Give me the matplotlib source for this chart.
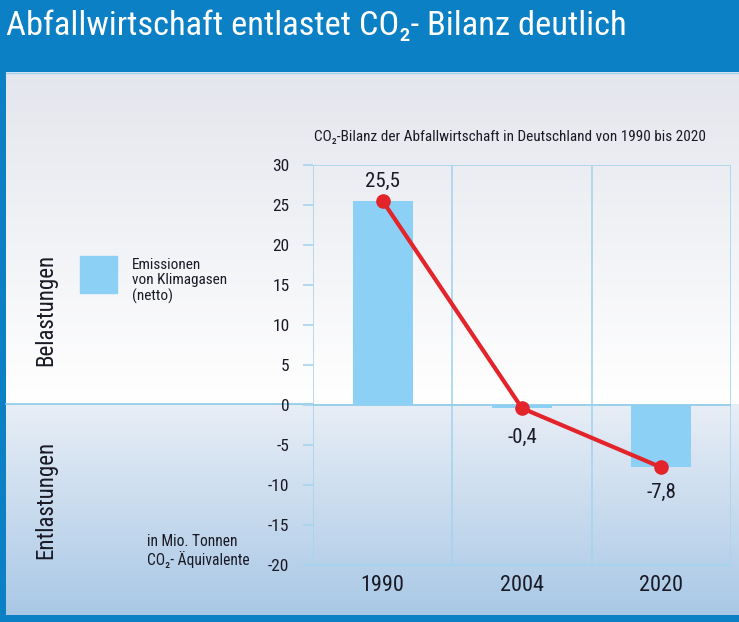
import numpy as np
import matplotlib.pyplot as plt
from matplotlib.colors import LinearSegmentedColormap

years = ["1990", "2004", "2020"]
emissions = [25.5, -0.4, -7.8]
value_labels = ["25,5", "-0,4", "-7,8"]
yticks = [30, 25, 20, 15, 10, 5, 0, -5, -10, -15, -20]

plt.rcParams["font.family"] = ["Roboto Condensed", "DejaVu Sans"]

W, H = 739, 622
fig = plt.figure(figsize=(W / 100, H / 100), dpi=100)

# background in pixel coordinates
bg = fig.add_axes([0, 0, 1, 1])
bg.axis("off")

blue = "#0b80c5"
zero_px = 404

top_cmap = LinearSegmentedColormap.from_list("top", ["#e4e6ed", "#ffffff"])
bot_cmap = LinearSegmentedColormap.from_list("bot", ["#e8eef6", "#a9c8e6"])
grad = np.linspace(0, 1, 256).reshape(-1, 1)
bg.imshow(grad, cmap=top_cmap, extent=(0, W, zero_px, 72), aspect="auto")
bg.imshow(grad, cmap=bot_cmap, extent=(0, W, 615, zero_px), aspect="auto")
bg.add_patch(plt.Rectangle((0, 0), W, 72, color=blue, lw=0))
bg.add_patch(plt.Rectangle((0, 0), 6, H, color=blue, lw=0))
bg.add_patch(plt.Rectangle((0, 615), W, 7, color=blue, lw=0))
bg.plot([6, W], [73, 73], color="#9fd0ee", lw=1)
bg.plot([6, 313], [zero_px, zero_px], color="#8ccbea", lw=1.2)
bg.set_xlim(0, W)
bg.set_ylim(H, 0)

fig.text(6 / W, 1 - 26 / H, "Abfallwirtschaft entlastet CO\u2082- Bilanz deutlich",
         color="white", fontsize=24.8, va="center", ha="left")

# chart
ax = fig.add_axes([313 / W, 57 / H, 418 / W, 400 / H])
ax.patch.set_alpha(0)
x = np.arange(len(years))
ax.bar(x, emissions, width=0.43, color="#8dd0f5", zorder=2)
ax.plot(x, emissions, color="#e3242b", lw=3, marker="o", markersize=9.5, zorder=4)

offsets = [14, -21, -18]
for xi, v, lab, off in zip(x, emissions, value_labels, offsets):
    ax.annotate(lab, (xi, v), xytext=(0, off), textcoords="offset points",
                ha="center", va="center", fontsize=15, color="#1a1a26", zorder=5)

ax.set_xlim(-0.5, 2.5)
ax.set_ylim(-20, 30)
ax.set_yticks(yticks)
ax.set_yticklabels([str(t) for t in yticks])
ax.set_xticks(x)
ax.set_xticklabels(years)

grid_c = "#a6d4ee"
for b in [-0.5, 0.5, 1.5, 2.5]:
    ax.axvline(b, color=grid_c, lw=1.2, zorder=1)
ax.axhline(30, color=grid_c, lw=1.2, zorder=1)
ax.axhline(0, color="#8ccbea", lw=1.2, zorder=1)
ax.plot([-0.56, 2.5], [-20, -20], color=grid_c, lw=1.5, clip_on=False, zorder=1)
for s in ax.spines.values():
    s.set_visible(False)

ax.tick_params(axis="y", length=7, color=grid_c, width=1.2, pad=10,
               labelsize=12.5, labelcolor="#1a1a26")
ax.tick_params(axis="x", length=0, pad=7, labelsize=16, labelcolor="#1a1a26")

fig.text(510 / W, 1 - 137 / H,
         "CO\u2082-Bilanz der Abfallwirtschaft in Deutschland von 1990 bis 2020",
         fontsize=11, ha="center", va="center", color="#1a1a26")

fig.text(46 / W, 1 - 310 / H, "Belastungen", rotation=90, fontsize=16.5,
         ha="center", va="center", color="#1a1a26")
fig.text(46 / W, 1 - 500 / H, "Entlastungen", rotation=90, fontsize=16.5,
         ha="center", va="center", color="#1a1a26")

fig.patches.append(plt.Rectangle((80 / W, 1 - 293 / H), 37 / W, 37 / H,
                                 transform=fig.transFigure, color="#8dd0f5"))
fig.text(132 / W, 1 - 281 / H, "Emissionen\nvon Klimagasen\n(netto)",
         fontsize=11, ha="left", va="center", color="#1a1a26", linespacing=1.1)

fig.text(147 / W, 1 - 551 / H, "in Mio. Tonnen\nCO\u2082- \u00c4quivalente",
         fontsize=11.2, ha="left", va="center", color="#1a1a26", linespacing=1.1)

fig.savefig("out.png", dpi=100)
